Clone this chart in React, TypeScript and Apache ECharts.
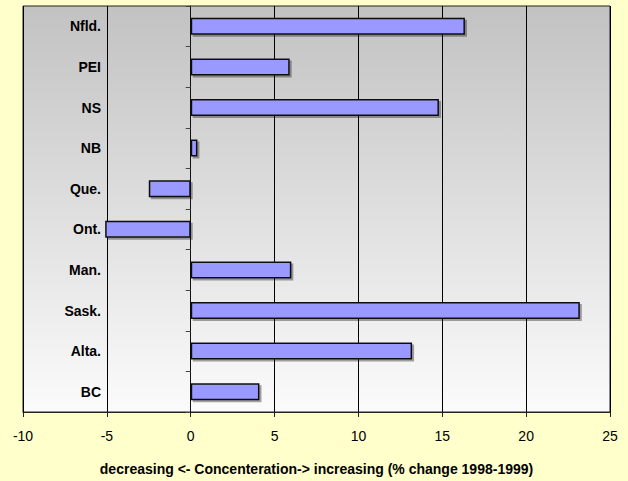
import React, { useEffect, useRef } from "react";
import * as echarts from "echarts";

const provinces = ["Nfld.", "PEI", "NS", "NB", "Que.", "Ont.", "Man.", "Sask.", "Alta.", "BC"];
const changeValues = [16.35, 5.9, 14.8, 0.4, -2.5, -5.1, 6.0, 23.2, 13.2, 4.1];
const xAxisTitle = "decreasing <- Concenteration-> increasing (% change 1998-1999)";

export default function App() {
  const ref = useRef<HTMLDivElement>(null);
  useEffect(() => {
    if (!ref.current) return;
    const chart = echarts.init(ref.current, undefined, { renderer: "svg" });
    const font = "Arial, 'Liberation Sans', sans-serif";
    chart.setOption({
      animation: false,
      backgroundColor: "#FFFFCC",
      grid: {
        left: 23,
        right: 18,
        top: 6,
        bottom: 64,
        show: true,
        borderColor: "#222",
        borderWidth: 1,
        backgroundColor: new echarts.graphic.LinearGradient(0, 0, 0, 1, [
          { offset: 0, color: "#C2C2C2" },
          { offset: 1, color: "#FBFBFB" },
        ]),
      },
      xAxis: {
        type: "value",
        min: -10,
        max: 25,
        interval: 5,
        axisLine: { show: true, onZero: false, lineStyle: { color: "#222", width: 1 } },
        axisTick: { show: true, length: 5, lineStyle: { color: "#222" } },
        axisLabel: { color: "#000", fontSize: 14, fontFamily: font, margin: 17 },
        splitLine: { show: true, lineStyle: { color: "#000", width: 1 } },
        name: xAxisTitle,
        nameLocation: "middle",
        nameGap: 50,
        nameTextStyle: { color: "#000", fontSize: 14, fontWeight: "bold", fontFamily: font },
      },
      yAxis: [
        {
          type: "category",
          data: provinces,
          inverse: true,
          axisLine: { show: true, onZero: true, lineStyle: { color: "#111", width: 1 } },
          axisTick: { show: true, length: 5, lineStyle: { color: "#444" } },
          axisLabel: { show: false },
          splitLine: { show: false },
        },
        {
          type: "category",
          data: provinces,
          inverse: true,
          position: "left",
          offset: -80,
          axisLine: { show: false, onZero: false },
          axisTick: { show: false },
          axisLabel: { color: "#000", fontSize: 14, fontWeight: "bold", fontFamily: font, margin: 2 },
          splitLine: { show: false },
        },
      ],
      series: [
        {
          type: "bar",
          yAxisIndex: 0,
          data: changeValues,
          barWidth: 17,
          itemStyle: {
            color: "#9999FF",
            borderColor: "#111",
            borderWidth: 1.5,
            shadowColor: "rgba(0,0,0,0.35)",
            shadowOffsetX: 2,
            shadowOffsetY: 2,
            shadowBlur: 0,
          },
        },
      ],
    });
    return () => chart.dispose();
  }, []);
  return <div ref={ref} style={{ position: "fixed", left: 0, top: 0, width: 628, height: 481 }} />;
}
